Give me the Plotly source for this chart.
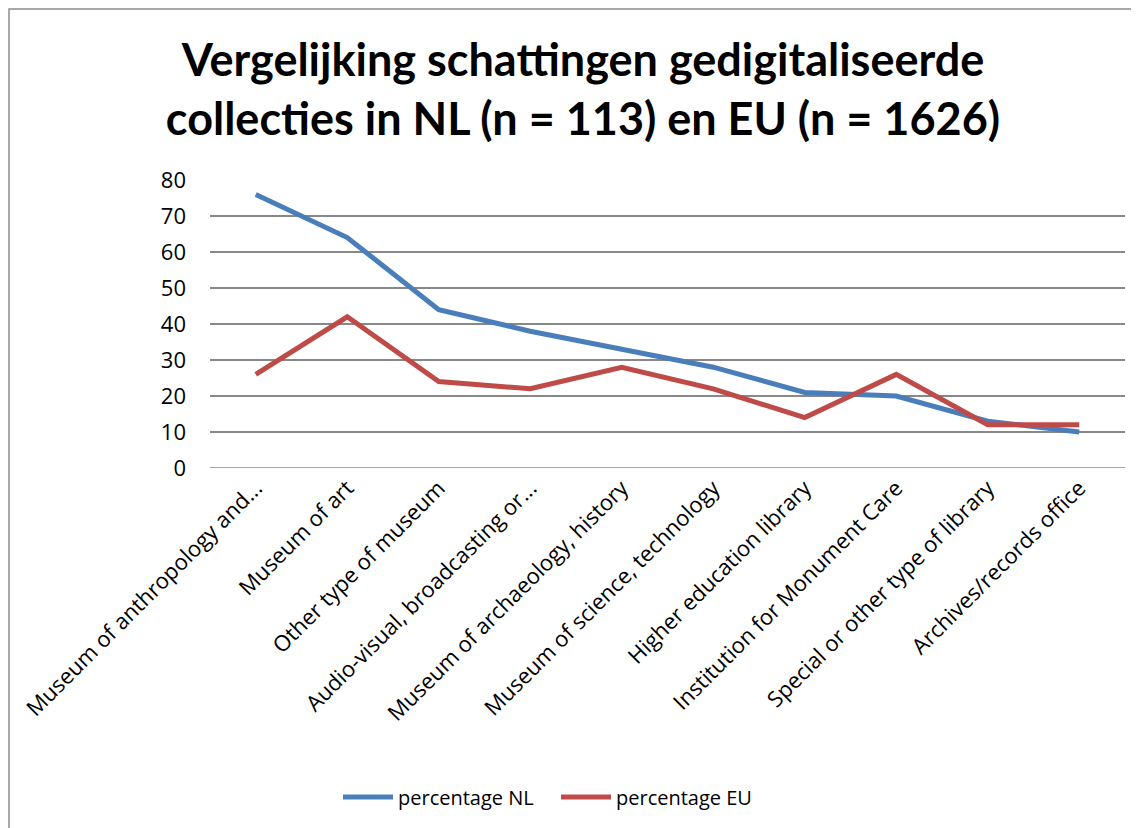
import plotly.graph_objects as go

categories = [
    "Museum of anthropology and...",
    "Museum of art",
    "Other type of museum",
    "Audio-visual, broadcasting or...",
    "Museum of archaeology, history",
    "Museum of science, technology",
    "Higher education library",
    "Institution for Monument Care",
    "Special or other type of library",
    "Archives/records office",
]
pct_nl = [76, 64, 44, 38, 33, 28, 21, 20, 13, 10]
pct_eu = [26, 42, 24, 22, 28, 22, 14, 26, 12, 12]
y_ticks = [0, 10, 20, 30, 40, 50, 60, 70, 80]

FONT = "Open Sans"
TFONT = "Lato"
OFF = 8  # page body margin
W, H = 1139, 828
ML, MT = 210 - OFF, 180 - OFF
MR = W - (1125 - OFF)
MB = H - (468 - OFF)
pw = W - ML - MR
ph = H - MT - MB

def px_x(p):
    return (p - OFF - ML) / pw

def px_y(p):
    return (H - MB - (p - OFF)) / ph

fig = go.Figure()
fig.add_trace(go.Scatter(x=categories, y=pct_nl, mode="lines", name="percentage NL",
                         line=dict(color="#4A7EBB", width=5)))
fig.add_trace(go.Scatter(x=categories, y=pct_eu, mode="lines", name="percentage EU",
                         line=dict(color="#BE4B48", width=5)))

fig.update_layout(
    width=W, height=H,
    margin=dict(l=ML, r=MR, t=MT, b=MB, autoexpand=False),
    paper_bgcolor="white", plot_bgcolor="white",
    font=dict(family=FONT, color="black", size=22),
    title=dict(
        text="<b>Vergelijking schattingen gedigitaliseerde<br>collecties in NL (n = 113) en EU (n = 1626)</b>",
        x=(583 - OFF) / W, xanchor="center", y=1 - 68 / H, yanchor="middle",
        font=dict(family=TFONT, size=45, color="black"),
    ),
    showlegend=True,
    legend=dict(orientation="h", x=px_x(556), xanchor="center", y=px_y(797), yanchor="middle",
                font=dict(family=FONT, size=20, color="black"), itemwidth=50,
                entrywidth=153, entrywidthmode="pixels",
                bgcolor="rgba(0,0,0,0)"),
    xaxis=dict(type="category", tickangle=-45, showgrid=False, zeroline=False,
               showline=False, ticks="", tickfont=dict(family=FONT, size=22),
               automargin=False, ticklabelstandoff=2,
               range=[-0.5, len(categories) - 0.5]),
    yaxis=dict(range=[0, 80], tickvals=y_ticks, showgrid=True, gridcolor="#888888",
               gridwidth=1.5, zeroline=False, showline=False, ticks="",
               automargin=False,
               tickfont=dict(family=FONT, size=22), ticklabelstandoff=23),
)

fig.add_shape(type="rect", xref="paper", yref="paper",
              x0=(1 - ML) / pw, x1=px_x(1160), y0=px_y(860), y1=px_y(9),
              line=dict(color="#8c8c8c", width=1.5), fillcolor="rgba(0,0,0,0)", layer="below")
fig.add_shape(type="line", xref="paper", yref="y",
              x0=0, x1=1, y0=0, y1=0, line=dict(color="#888888", width=1.5))

fig.write_html("out.html")
